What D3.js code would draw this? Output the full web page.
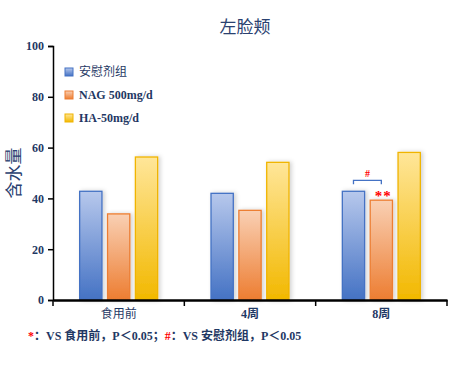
<!DOCTYPE html>
<html>
<head>
<meta charset="utf-8" />
<script src="https://d3js.org/d3.v7.min.js"></script>
<style>
  body { margin: 0; background: #fff; }
  text { font-family: "Liberation Serif", "Noto Sans CJK SC", serif; }
</style>
</head>
<body>
<div id="visu"></div>
<script>
  // Données
  const categories = ["食用前", "4周", "8周"];
  const series = ["安慰剂组", "NAG 500mg/d", "HA-50mg/d"];
  const placebo = [42.8, 42.0, 42.8];
  const nag = [33.9, 35.3, 39.3];
  const ha = [56.3, 54.2, 58.1];
  const yTicks = [0, 20, 40, 60, 80, 100];

  const largeur = 476, hauteur = 377;
  const marge = {haut: 46, droite: 29, bas: 77, gauche: 53};
  const navy = "#1f3864";

  const couleurs = [
    {haut: "#b7c8ec", bas: "#4472c4", trait: "#4472c4"},
    {haut: "#f9d0b4", bas: "#ed7d31", trait: "#ed7d31"},
    {haut: "#ffe699", bas: "#f2b800", trait: "#f0b400"}
  ];

  const svg = d3.select("#visu").append("svg")
    .attr("width", largeur).attr("height", hauteur);

  const defs = svg.append("defs");
  couleurs.forEach((c, i) => {
    const g = defs.append("linearGradient").attr("id", "grad" + i)
      .attr("x1", 0).attr("y1", 0).attr("x2", 0).attr("y2", 1);
    g.append("stop").attr("offset", "0%").attr("stop-color", c.haut);
    g.append("stop").attr("offset", "100%").attr("stop-color", c.bas);
  });
  const ombre = defs.append("filter").attr("id", "ombre")
    .attr("x", "-30%").attr("y", "-10%").attr("width", "170%").attr("height", "120%");
  ombre.append("feDropShadow").attr("dx", 2).attr("dy", 0).attr("stdDeviation", 2)
    .attr("flood-color", "#000").attr("flood-opacity", 0.18);

  const x = d3.scaleBand().domain(categories)
    .range([marge.gauche, largeur - marge.droite]);
  const bandeBarres = 78; // largeur occupée par les 3 barres
  const xSerie = d3.scaleBand().domain(series)
    .range([(x.bandwidth() - bandeBarres) / 2, (x.bandwidth() + bandeBarres) / 2])
    .paddingInner(0.2);

  const y = d3.scaleLinear().domain([0, 100])
    .range([hauteur - marge.bas, marge.haut]);

  // Barres
  const donnees = [placebo, nag, ha];
  donnees.forEach((valeurs, i) => {
    svg.append("g").selectAll("rect").data(valeurs).enter().append("rect")
      .attr("x", (d, j) => x(categories[j]) + xSerie(series[i]))
      .attr("y", d => y(d))
      .attr("width", xSerie.bandwidth())
      .attr("height", d => y(0) - y(d))
      .attr("fill", "url(#grad" + i + ")")
      .attr("stroke", couleurs[i].trait)
      .attr("stroke-width", 1.3)
      .attr("filter", "url(#ombre)");
  });

  // Axes
  const axeY = svg.append("g")
    .attr("transform", `translate(${marge.gauche},0)`)
    .call(d3.axisLeft(y).tickValues(yTicks).tickSize(5).tickPadding(4));
  axeY.select(".domain").attr("stroke", "#000").attr("stroke-width", 1.5);
  axeY.selectAll(".tick line").attr("stroke", "#000").attr("stroke-width", 1.5);
  axeY.selectAll(".tick text")
    .attr("font-size", 12).attr("font-weight", "bold").attr("fill", navy)
    .style("font-family", "Liberation Serif");

  const axeX = svg.append("g")
    .attr("transform", `translate(0,${y(0)})`)
    .call(d3.axisBottom(x).tickSize(0).tickPadding(9));
  axeX.select(".domain").attr("stroke", "#000").attr("stroke-width", 2.5);
  axeX.selectAll(".tick text")
    .attr("font-size", 12).attr("font-weight", "bold").attr("fill", navy);
  axeX.selectAll(".tick text").filter(d => d === "食用前").attr("font-weight", "normal");
  // graduations aux limites des catégories
  const limites = categories.map(c => x(c)).concat([x.range()[1]]);
  axeX.selectAll(".limite").data(limites).enter().append("line")
    .attr("x1", d => d).attr("x2", d => d).attr("y1", 0).attr("y2", 6)
    .attr("stroke", "#000").attr("stroke-width", 1.5);

  // Titre et libellé
  svg.append("text").attr("x", 245).attr("y", 33)
    .attr("text-anchor", "middle").attr("font-size", 17).attr("fill", "#2a4170")
    .text("左脸颊");
  svg.append("text")
    .attr("transform", `translate(20,173) rotate(-90)`)
    .attr("text-anchor", "middle").attr("font-size", 17).attr("fill", "#2a4170")
    .text("含水量");

  // Légende
  const legende = svg.append("g").attr("transform", "translate(65,68)");
  series.forEach((s, i) => {
    const lg = legende.append("g").attr("transform", `translate(0,${i * 23})`);
    lg.append("rect").attr("width", 8).attr("height", 8)
      .attr("fill", "url(#grad" + i + ")").attr("stroke", couleurs[i].trait);
    lg.append("text").attr("x", 14).attr("y", 8)
      .attr("font-size", 12).attr("font-weight", i === 0 ? "normal" : "bold").attr("fill", navy)
      .text(s);
  });

  // Significativité sur 8周
  const c3 = categories[2];
  const xb1 = x(c3) + xSerie(series[0]) + xSerie.bandwidth() / 2;
  const xb2 = x(c3) + xSerie(series[1]) + xSerie.bandwidth() / 2;
  const yb = y(Math.max(placebo[2], nag[2])) - 11;
  svg.append("path")
    .attr("d", `M${xb1},${yb + 4}V${yb}H${xb2}V${yb + 4}`)
    .attr("fill", "none").attr("stroke", "#4472c4").attr("stroke-width", 1.3);
  svg.append("text").attr("x", (xb1 + xb2) / 2).attr("y", yb - 3)
    .attr("text-anchor", "middle").attr("font-size", 10).attr("font-weight", "bold")
    .attr("fill", "#ff0000").text("#");
  svg.append("text").attr("x", xb2 + 2).attr("y", y(nag[2]) + 1)
    .attr("text-anchor", "middle").attr("font-size", 15).attr("font-weight", "bold")
    .attr("letter-spacing", 1)
    .attr("fill", "#ff0000").text("**");

  // Note
  const note = svg.append("text").attr("x", 28).attr("y", 340)
    .attr("font-size", 12).attr("font-weight", "bold").attr("fill", navy);
  note.append("tspan").attr("fill", "#ff0000").text("*");
  note.append("tspan").text("：VS 食用前，P＜0.05；");
  note.append("tspan").attr("fill", "#ff0000").text("#");
  note.append("tspan").text("：VS 安慰剂组，P＜0.05");
</script>
</body>
</html>
